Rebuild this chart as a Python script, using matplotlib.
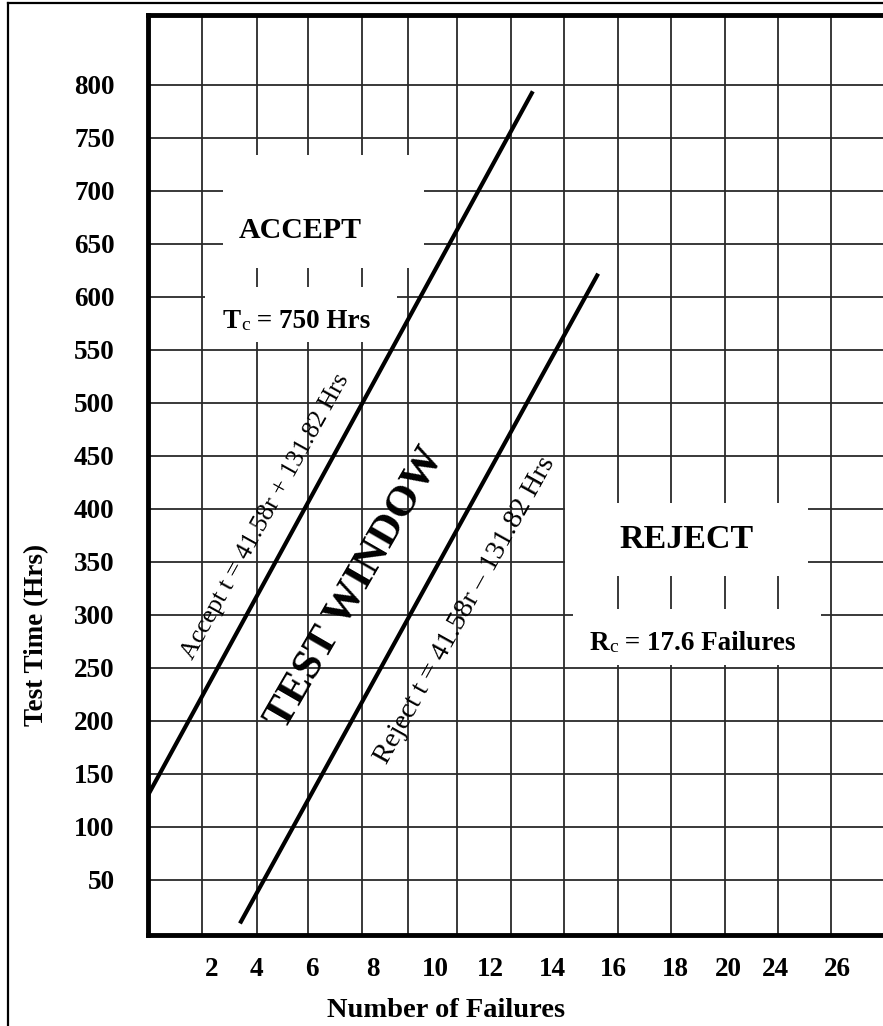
import matplotlib.pyplot as plt
from matplotlib.patches import Rectangle
from matplotlib.lines import Line2D

plt.rcParams['font.family'] = ['Liberation Serif', 'DejaVu Serif']

# boundary lines (failures r, hours t)
accept_r = [0, 15.9]
accept_t = [130, 794]
reject_r = [3.8, 18.6]
reject_t = [9, 622]

# vertical grid lines and the (hand placed) x tick labels
grid_r = [2.23, 4.5, 6.61, 8.84, 10.74, 12.77, 15.0, 17.19, 19.42, 21.61, 23.84, 26.03, 28.22]
xtick_pos = [2.64, 4.46, 6.78, 9.3, 11.86, 14.13, 16.7, 19.21, 21.78, 23.97, 25.91, 28.47]
xtick_labels = ['2', '4', '6', '8', '10', '12', '14', '16', '18', '20', '24', '26']
ytick_vals = list(range(50, 801, 50))

fig = plt.figure(figsize=(8.83, 10.26), dpi=100)
ax = fig.add_axes([148/883, 91/1026, 735/883, 920/1026])
ax.set_xlim(0, 30.37)
ax.set_ylim(-1.9, 866)

ax.set_xticks(xtick_pos)
ax.set_xticklabels(xtick_labels)
ax.set_xticks(grid_r, minor=True)
ax.set_yticks(ytick_vals)
ax.tick_params(which='both', length=0)
ax.tick_params(axis='x', pad=16, labelsize=19.5)
ax.tick_params(axis='y', pad=24, labelsize=19.5)
for lab in ax.get_xticklabels() + ax.get_yticklabels():
    lab.set_fontweight('bold')

ax.grid(which='minor', axis='x', color='#2a2a2a', lw=1.3)
ax.grid(which='major', axis='y', color='#2a2a2a', lw=1.3)

ax.spines['right'].set_visible(False)
for s in ['left', 'top', 'bottom']:
    ax.spines[s].set_linewidth(3.5)
    ax.spines[s].set_color('black')

# white areas behind the region labels
for (x0, y0, w, h) in [(3.10, 627, 8.30, 107), (2.36, 557.5, 7.93, 51.5),
                       (17.23, 337, 10.04, 69), (17.56, 253, 10.25, 53)]:
    ax.add_patch(Rectangle((x0, y0), w, h, facecolor='white', edgecolor='none', zorder=2))

ax.plot(accept_r, accept_t, color='black', lw=3, solid_capstyle='butt', zorder=3)
ax.plot(reject_r, reject_t, color='black', lw=3, solid_capstyle='butt', zorder=3)

ax.text(4.85, 393, 'Accept t = 41.58r + 131.82 Hrs', fontsize=18.5, rotation=61,
        rotation_mode='anchor', ha='center', va='center', zorder=4)
ax.text(13.10, 304, 'Reject t = 41.58r \u2013 131.82 Hrs', fontsize=20.5, rotation=61,
        rotation_mode='anchor', ha='center', va='center', zorder=4)
ax.text(8.55, 325, 'TEST WINDOW', fontsize=31, fontweight='bold', rotation=60,
        rotation_mode='anchor', ha='center', va='center', zorder=4)

ax.text(6.28, 663, 'ACCEPT', fontsize=21.5, fontweight='bold', ha='center', va='center', zorder=4)
ax.text(22.27, 371, 'REJECT', fontsize=24.5, fontweight='bold', ha='center', va='center', zorder=4)


def cap_sub(x, y, big, small, rest, size):
    t1 = ax.text(x, y, big, fontsize=size, fontweight='bold', ha='left', va='bottom', zorder=4)
    t2 = ax.annotate(small, xy=(1, 0), xycoords=t1, fontsize=size*0.72,
                     ha='left', va='bottom', zorder=4)
    ax.annotate(rest, xy=(1, 0), xycoords=t2, fontsize=size, fontweight='bold',
                ha='left', va='bottom', zorder=4)


cap_sub(3.10, 565, 'T', 'c', ' = 750 Hrs', 19.5)
cap_sub(18.26, 261, 'R', 'c', ' = 17.6 Failures', 19.5)

ax.set_xlabel('Number of Failures', fontsize=20.5, fontweight='bold')
ax.xaxis.set_label_coords((446-148)/735, (935-998)/920)
fig.text(37/883, 1-635/1026, 'Test Time (Hrs)', fontsize=19.5, fontweight='bold',
         rotation=90, ha='center', va='center')

# outer picture frame (left and top edges)
fig.add_artist(Line2D([8/883, 8/883], [0, 1-3/1026], color='black', lw=1.6))
fig.add_artist(Line2D([8/883, 1], [1-3/1026, 1-3/1026], color='black', lw=1.6))

fig.savefig('out.png', dpi=100)
